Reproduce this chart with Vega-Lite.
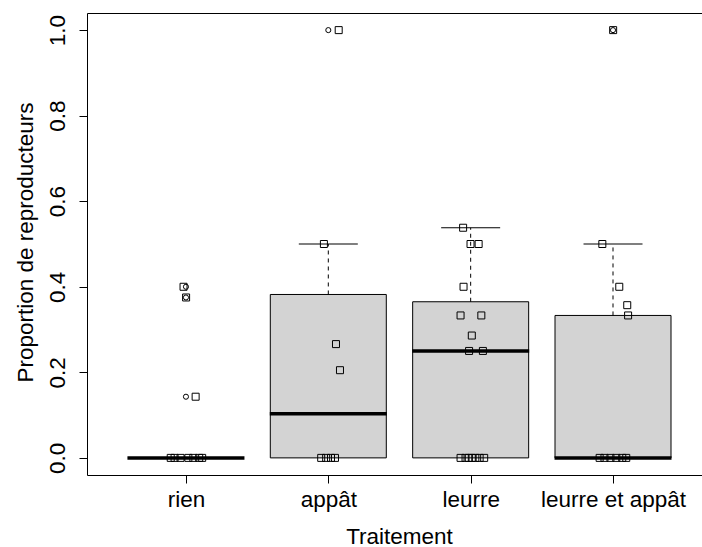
{
  "$schema": "https://vega.github.io/schema/vega-lite/v6.json",
  "width": 615,
  "height": 462,
  "autosize": "none",
  "padding": {"left": 87, "top": 13, "right": 0, "bottom": 72},
  "background": "white",
  "config": {
    "view": {"stroke": null},
    "font": "Liberation Sans",
    "axis": {
      "domainColor": "#000000",
      "domainWidth": 1,
      "tickColor": "#000000",
      "tickWidth": 1,
      "tickSize": 8,
      "grid": false,
      "labelFont": "Liberation Sans",
      "labelFontSize": 22.5,
      "labelColor": "#000000",
      "titleFont": "Liberation Sans",
      "titleFontSize": 22.5,
      "titleFontWeight": "normal",
      "titleColor": "#000000"
    }
  },
  "datasets": {
    "boxes": [
      {"Traitement": "rien", "pos": 1, "q1": 0, "median": 0, "q3": 0, "lo": 0, "hi": 0},
      {"Traitement": "appât", "pos": 2, "q1": 0, "median": 0.103, "q3": 0.382, "lo": 0, "hi": 0.5},
      {"Traitement": "leurre", "pos": 3, "q1": 0, "median": 0.25, "q3": 0.365, "lo": 0, "hi": 0.538},
      {"Traitement": "leurre et appât", "pos": 4, "q1": 0, "median": 0, "q3": 0.333, "lo": 0, "hi": 0.5}
    ],
    "outliers": [
      {"Traitement": "rien", "pos": 1, "value": 0.4},
      {"Traitement": "rien", "pos": 1, "value": 0.375},
      {"Traitement": "rien", "pos": 1, "value": 0.143},
      {"Traitement": "appât", "pos": 2, "value": 1.0},
      {"Traitement": "leurre et appât", "pos": 4, "value": 1.0}
    ],
    "points": [
      {"Traitement": "rien", "jitter_pos": 0.983, "value": 0.4},
      {"Traitement": "rien", "jitter_pos": 1.001, "value": 0.375},
      {"Traitement": "rien", "jitter_pos": 1.068, "value": 0.143},
      {"Traitement": "rien", "jitter_pos": 0.893, "value": 0},
      {"Traitement": "rien", "jitter_pos": 0.92, "value": 0},
      {"Traitement": "rien", "jitter_pos": 0.962, "value": 0},
      {"Traitement": "rien", "jitter_pos": 1.017, "value": 0},
      {"Traitement": "rien", "jitter_pos": 1.052, "value": 0},
      {"Traitement": "rien", "jitter_pos": 1.093, "value": 0},
      {"Traitement": "rien", "jitter_pos": 1.114, "value": 0},
      {"Traitement": "appât", "jitter_pos": 2.073, "value": 1.0},
      {"Traitement": "appât", "jitter_pos": 1.969, "value": 0.5},
      {"Traitement": "appât", "jitter_pos": 2.054, "value": 0.266},
      {"Traitement": "appât", "jitter_pos": 2.082, "value": 0.205},
      {"Traitement": "appât", "jitter_pos": 1.95, "value": 0},
      {"Traitement": "appât", "jitter_pos": 1.985, "value": 0},
      {"Traitement": "appât", "jitter_pos": 2.019, "value": 0},
      {"Traitement": "appât", "jitter_pos": 2.047, "value": 0},
      {"Traitement": "leurre", "jitter_pos": 2.947, "value": 0.538},
      {"Traitement": "leurre", "jitter_pos": 2.999, "value": 0.5},
      {"Traitement": "leurre", "jitter_pos": 3.056, "value": 0.5},
      {"Traitement": "leurre", "jitter_pos": 2.95, "value": 0.4},
      {"Traitement": "leurre", "jitter_pos": 2.929, "value": 0.333},
      {"Traitement": "leurre", "jitter_pos": 3.075, "value": 0.333},
      {"Traitement": "leurre", "jitter_pos": 3.008, "value": 0.286},
      {"Traitement": "leurre", "jitter_pos": 2.989, "value": 0.25},
      {"Traitement": "leurre", "jitter_pos": 3.086, "value": 0.25},
      {"Traitement": "leurre", "jitter_pos": 2.929, "value": 0},
      {"Traitement": "leurre", "jitter_pos": 2.964, "value": 0},
      {"Traitement": "leurre", "jitter_pos": 2.987, "value": 0},
      {"Traitement": "leurre", "jitter_pos": 3.008, "value": 0},
      {"Traitement": "leurre", "jitter_pos": 3.033, "value": 0},
      {"Traitement": "leurre", "jitter_pos": 3.063, "value": 0},
      {"Traitement": "leurre", "jitter_pos": 3.095, "value": 0},
      {"Traitement": "leurre et appât", "jitter_pos": 4.001, "value": 1.0},
      {"Traitement": "leurre et appât", "jitter_pos": 3.925, "value": 0.5},
      {"Traitement": "leurre et appât", "jitter_pos": 4.044, "value": 0.4},
      {"Traitement": "leurre et appât", "jitter_pos": 4.1, "value": 0.357},
      {"Traitement": "leurre et appât", "jitter_pos": 4.106, "value": 0.333},
      {"Traitement": "leurre et appât", "jitter_pos": 3.906, "value": 0},
      {"Traitement": "leurre et appât", "jitter_pos": 3.94, "value": 0},
      {"Traitement": "leurre et appât", "jitter_pos": 3.982, "value": 0},
      {"Traitement": "leurre et appât", "jitter_pos": 4.023, "value": 0},
      {"Traitement": "leurre et appât", "jitter_pos": 4.065, "value": 0},
      {"Traitement": "leurre et appât", "jitter_pos": 4.093, "value": 0}
    ]
  },
  "layer": [
    {
      "data": {"name": "boxes"},
      "mark": {"type": "bar", "fill": "#D3D3D3", "stroke": "#000000", "strokeWidth": 1, "width": 116, "opacity": 1},
      "encoding": {
        "x": {
          "field": "pos", "type": "quantitative",
          "scale": {"domain": [0.34, 4.59], "nice": false, "zero": false},
          "axis": {
            "orient": "bottom",
            "values": [1, 2, 3, 4],
            "labelExpr": "['rien', 'appât', 'leurre', 'leurre et appât'][datum.value - 1]",
            "labelPadding": 5,
            "labelFlush": false,
            "labelOverlap": false,
            "title": "Traitement",
            "titleY": 61,
            "titleBaseline": "middle",
            "titleX": 312
          }
        },
        "y": {
          "field": "q1", "type": "quantitative",
          "scale": {"domain": [-0.04, 1.04], "nice": false, "zero": false},
          "axis": {
            "values": [0, 0.2, 0.4, 0.6, 0.8, 1.0],
            "format": ".1f",
            "labelAngle": -90,
            "labelAlign": "center",
            "labelBaseline": "bottom",
            "labelPadding": 10,
            "labelFlush": false,
            "labelOverlap": false,
            "title": "Proportion de reproducteurs",
            "titleX": -62,
            "titleY": 229,
            "titleAngle": -90,
            "titleAlign": "center",
            "titleBaseline": "middle"
          }
        },
        "y2": {"field": "q3"}
      }
    },
    {
      "data": {"name": "boxes"},
      "mark": {"type": "rule", "stroke": "#000000", "strokeWidth": 1, "strokeDash": [4, 4]},
      "encoding": {
        "x": {
          "field": "pos", "type": "quantitative",
          "axis": {"orient": "top", "labels": false, "ticks": false, "title": null, "domain": true}
        },
        "y": {"field": "q3", "type": "quantitative"},
        "y2": {"field": "hi"}
      }
    },
    {
      "data": {"name": "boxes"},
      "mark": {"type": "tick", "orient": "horizontal", "size": 59, "thickness": 1, "color": "#000000", "opacity": 1},
      "encoding": {
        "x": {"field": "pos", "type": "quantitative", "axis": null},
        "y": {"field": "hi", "type": "quantitative"}
      }
    },
    {
      "data": {"name": "boxes"},
      "mark": {"type": "tick", "orient": "horizontal", "size": 117, "thickness": 3.5, "color": "#000000", "opacity": 1},
      "encoding": {
        "x": {"field": "pos", "type": "quantitative", "axis": null},
        "y": {"field": "median", "type": "quantitative"}
      }
    },
    {
      "data": {"name": "outliers"},
      "mark": {"type": "point", "shape": "circle", "filled": false, "size": 26, "stroke": "#000000", "strokeWidth": 1, "opacity": 1},
      "encoding": {
        "x": {"field": "pos", "type": "quantitative", "axis": null},
        "y": {"field": "value", "type": "quantitative"}
      }
    },
    {
      "data": {"name": "points"},
      "mark": {"type": "point", "shape": "square", "filled": false, "size": 49, "stroke": "#000000", "strokeWidth": 1, "opacity": 1},
      "encoding": {
        "x": {"field": "jitter_pos", "type": "quantitative", "axis": null},
        "y": {"field": "value", "type": "quantitative"}
      }
    }
  ],
  "resolve": {"axis": {"x": "independent"}}
}
